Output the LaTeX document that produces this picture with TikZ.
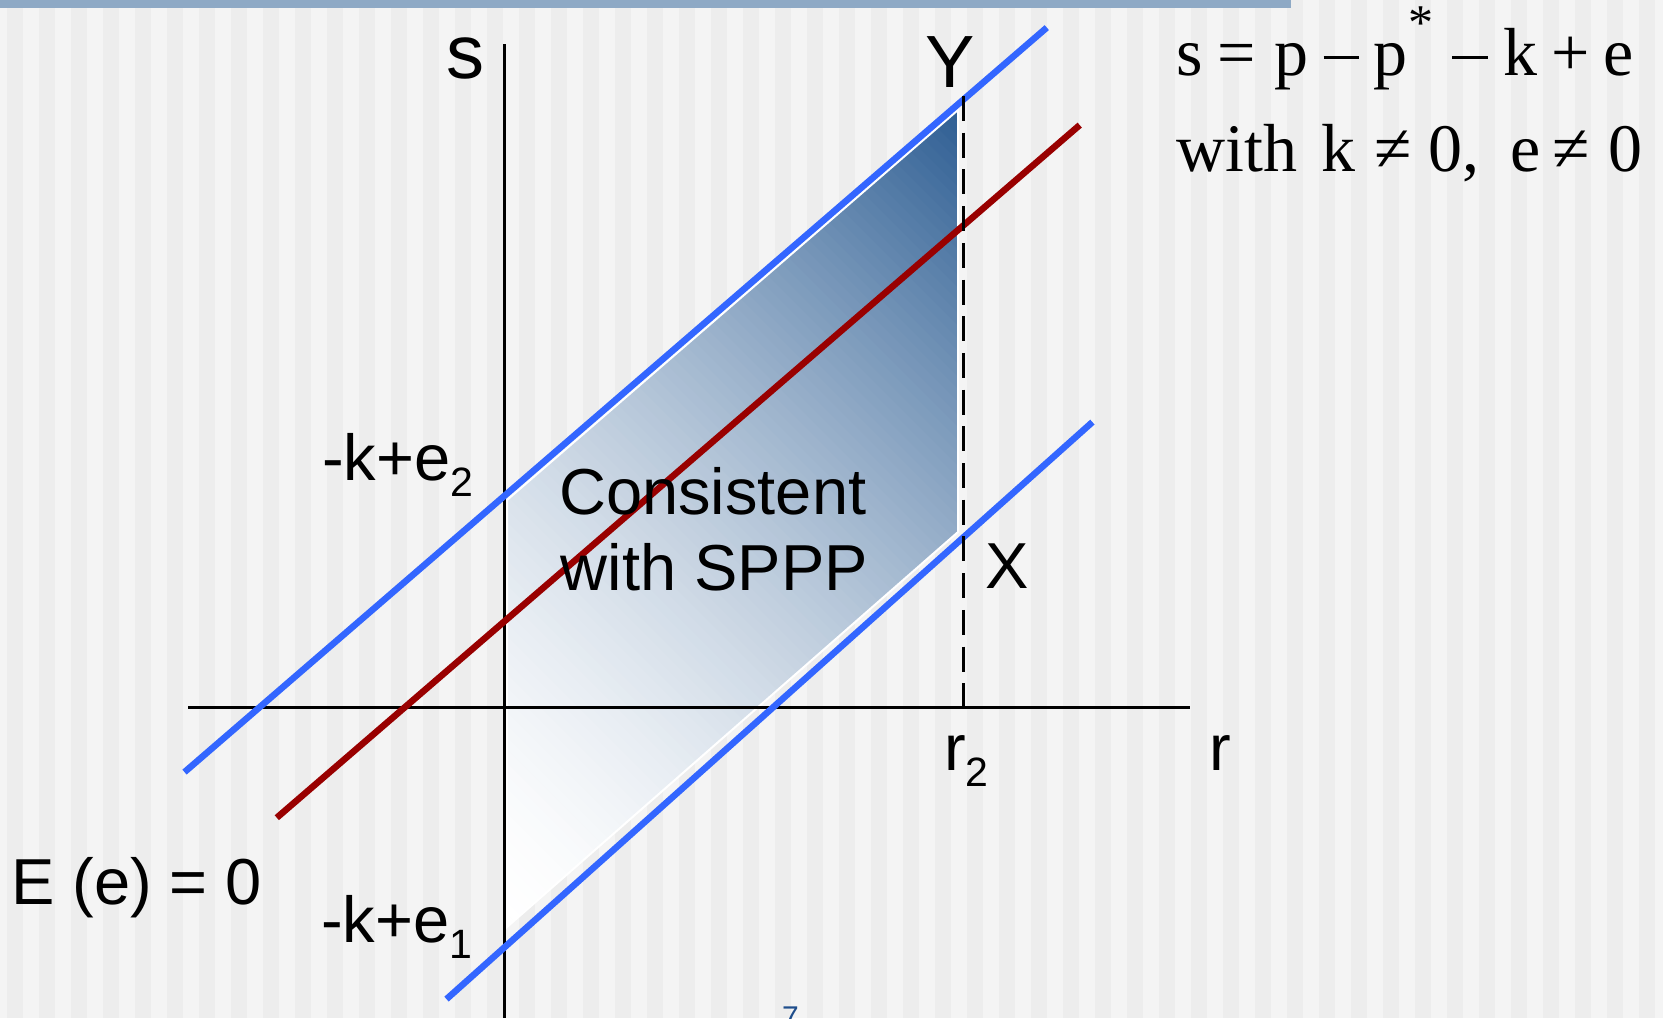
\documentclass[tikz,border=0pt]{standalone}
\usepackage{fontspec}
\setmainfont{Liberation Sans}
\newfontfamily\eqfont{Liberation Serif}
\definecolor{bglight}{HTML}{F4F4F4}
\definecolor{bgdark}{HTML}{EDEDED}
\definecolor{barblue}{HTML}{8EA9C5}
\definecolor{lineblue}{HTML}{3366FF}
\definecolor{linered}{HTML}{990000}
\definecolor{shadedark}{HTML}{2E5E93}
\definecolor{numblue}{HTML}{1F4E8C}
\newcommand{\subtxt}[1]{\raisebox{-16pt}{\fontsize{41}{44}\selectfont #1}}
\newcommand{\eqminus}{\hspace{2.3pt}\rule[16.5pt]{35.7pt}{3pt}\hspace{2.3pt}}
\begin{document}
\begin{tikzpicture}[x=1pt,y=-1pt,
  lbl/.style={inner sep=0pt, outer sep=0pt, anchor=base, font=\fontsize{65}{70}\selectfont},
  eqlbl/.style={inner sep=0pt, outer sep=0pt, anchor=base west, font=\eqfont\fontsize{68}{72}\selectfont},
  axisline/.style={line width=3pt, black},
  bluel/.style={line width=6.5pt, lineblue},
  redl/.style={line width=6.5pt, linered},
  dashl/.style={line width=3pt, black, dash pattern=on 25pt off 11.7pt}]
\useasboundingbox (0,0) rectangle (1663,1018);
% background stripes
\fill[bglight] (0,0) rectangle (1663,1018);
\foreach \m in {0,...,51} { \fill[bgdark] ({7+32*\m},0) rectangle ({23+32*\m},1018); }
\fill[barblue] (0,0) rectangle (1291,7.5);
% shaded region
\coordinate (A) at (507,500);
\coordinate (B) at (958,110);
\coordinate (C) at (958,532);
\coordinate (D) at (507,927);
\begin{scope}
\clip (A) -- (B) -- (C) -- (D) -- cycle;
\foreach \i in {0,...,99} {
  \pgfmathsetmacro\ca{-420+\i*12.68}
  \pgfmathsetmacro\cb{\ca+13.5}
  \pgfmathsetmacro\g{100*((\i+0.5)/100)^1.6}
  \fill[shadedark!\g!white] ({\ca+90},90) -- ({\ca+950},950) -- ({\cb+950},950) -- ({\cb+90},90) -- cycle;
}
\end{scope}
\draw[white, line width=2pt] (A) -- (B) -- (C) -- (D) -- cycle;
% axes
\coordinate (stop) at (504,44);
\coordinate (sbot) at (504,1018);
\coordinate (rl) at (188,707.5);
\coordinate (rr) at (1190,707.5);
\draw[axisline] (stop) -- (sbot);
\draw[axisline] (rl) -- (rr);
% lines
\coordinate (ub1) at (184.5,772.1);
\coordinate (ub2) at (1046.8,27.6);
\coordinate (rd1) at (276.8,817.7);
\coordinate (rd2) at (1079.7,125.1);
\coordinate (lb1) at (446.5,999.1);
\coordinate (lb2) at (1092.4,422.1);
\draw[bluel] (ub1) -- (ub2);
\draw[redl] (rd1) -- (rd2);
\draw[bluel] (lb1) -- (lb2);
% dashed
\coordinate (dtop) at (963,96);
\coordinate (dbot) at (963,708);
\draw[dashl] (dtop) -- (dbot);
% labels
\node[lbl, font=\fontsize{76}{80}\selectfont] (slab) at (465,78.5) {s};
\node[lbl, font=\fontsize{74}{78}\selectfont] (ylab) at (950,87.3) {Y};
\node[lbl, anchor=base west] (ke2) at (322,480) {-k+e\subtxt{2}};
\node[lbl] (cons1) at (712.7,514) {Consistent};
\node[lbl] (cons2) at (714.5,590.7) {with SPPP};
\node[lbl] (xlab) at (1006.7,588) {X};
\node[lbl, anchor=base west] (r2lab) at (944,770) {r\subtxt{2}};
\node[lbl] (rlab) at (1220,770) {r};
\node[lbl, anchor=base west] (ee) at (11,904) {E (e) = 0};
\node[lbl, anchor=base west] (ke1) at (321,942.7) {-k+e\subtxt{1}};
\node[eqlbl] (eq1) at (1176.5,75) {s\hspace{15pt}=\hspace{18pt}p\hspace{13.1pt}\eqminus\hspace{11.5pt}p\hspace{1.4pt}\raisebox{36pt}{\fontsize{50}{50}\selectfont *}\hspace{16.1pt}\eqminus\hspace{13.4pt}k\hspace{14.2pt}+\hspace{13.5pt}e};
\node[eqlbl] (eq2) at (1176.4,171.7) {with\hspace{23.9pt}k\hspace{19.5pt}≠\hspace{16.4pt}0,\hspace{30.6pt}e\hspace{12.8pt}≠\hspace{18.1pt}0};
\node[anchor=north, inner sep=0pt, font=\fontsize{30}{32}\selectfont, text=numblue] (pgnum) at (790.5,1007) {7};
\end{tikzpicture}
\end{document}
